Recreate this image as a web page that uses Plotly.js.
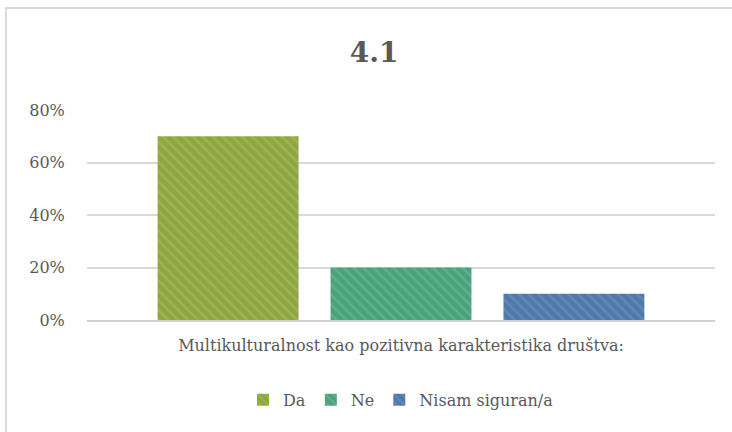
<!DOCTYPE html>
<html><head><meta charset="utf-8">
<script src="https://cdn.plot.ly/plotly-3.0.1.min.js"></script>
<style>
html,body{margin:0;padding:0;background:#fff;}
#wrap{position:relative;width:732px;height:432px;}
#chart{position:absolute;left:0;top:0;width:732px;height:432px;}
#bl{position:absolute;left:5px;top:7px;width:2px;height:430px;background:#d9d9d9;}
#bt{position:absolute;left:5px;top:7px;width:730px;height:2px;background:#d9d9d9;}
</style></head>
<body><div id="wrap"><div id="chart"></div><div id="bl"></div><div id="bt"></div></div>
<script>
const categories = ["Multikulturalnost kao pozitivna karakteristika društva:"];
const seriesNames = ["Da", "Ne", "Nisam siguran/a"];
const seriesValues = [[0.70], [0.20], [0.10]];
const seriesColors = ["#8ea63f", "#4aa27a", "#5078a8"];
const stripeColors = ["#9cb450", "#5cb08a", "#6088b6"];
const yTicks = [0, 0.2, 0.4, 0.6, 0.8];
const yTickText = ["0%", "20%", "40%", "60%", "80%"];
const FAM = "DejaVu Serif, Liberation Serif, serif";

const traces = seriesNames.map((n, i) => ({
  type: "bar", name: n, x: categories, y: seriesValues[i],
  marker: {color: seriesColors[i], line: {width: 0},
    pattern: {shape: "\\", fgcolor: stripeColors[i], bgcolor: seriesColors[i], size: 7, solidity: 0.4}},
  hoverinfo: "skip"
}));

const layout = {
  width: 732, height: 432,
  paper_bgcolor: "#fff", plot_bgcolor: "#fff",
  margin: {l: 87, r: 17, t: 110, b: 112},
  font: {family: FAM, color: "#595959", size: 16},
  title: {text: "<b>4.1</b>", x: 0.511, xanchor: "center", y: 0.88, yanchor: "middle",
    font: {family: FAM, size: 28, color: "#595959"}},
  barmode: "group", bargap: 0.174, bargroupgap: 0.185,
  xaxis: {showgrid: false, showline: true, linecolor: "#d0d0d0", linewidth: 2,
    ticks: "outside", ticklen: 10, tickcolor: "rgba(0,0,0,0)",
    tickfont: {family: FAM, size: 16, color: "#595959"}, fixedrange: true},
  yaxis: {range: [0, 0.8], tickvals: yTicks, ticktext: yTickText, showgrid: true,
    gridcolor: "#d9d9d9", gridwidth: 2, zeroline: false, showline: false,
    ticks: "outside", ticklen: 18, tickcolor: "rgba(0,0,0,0)",
    tickfont: {family: FAM, size: 16, color: "#595959"}, automargin: false, fixedrange: true},
  legend: {orientation: "h", x: 0.5, xanchor: "center", y: -0.38, yanchor: "middle",
    font: {family: FAM, size: 16, color: "#595959"}, itemwidth: 30, traceorder: "normal"},
  showlegend: true
};
Plotly.newPlot("chart", traces, layout, {displayModeBar: false, staticPlot: true});
</script></body></html>
